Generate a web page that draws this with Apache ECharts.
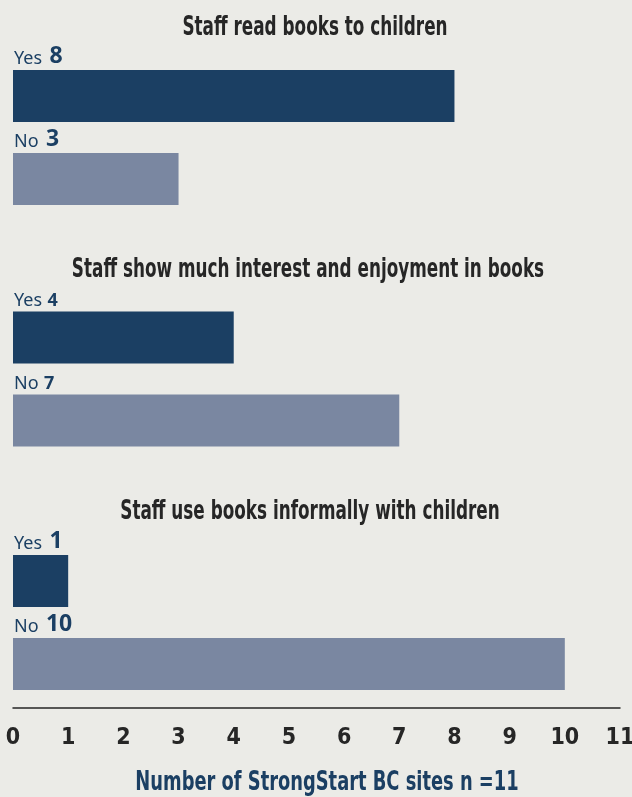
<!DOCTYPE html>
<html><head><meta charset="utf-8">
<script src="https://cdn.jsdelivr.net/npm/echarts@6/dist/echarts.min.js"></script>
<style>html,body{margin:0;padding:0;background:#ebebe7;}#c{width:632px;height:797px;}</style>
</head><body><div id="c"></div>
<script>
const questions = ['Staff read books to children','Staff show much interest and enjoyment in books','Staff use books informally with children'];
const categories = ['Yes','No'];
const yesCounts = [8, 4, 1];
const noCounts = [3, 7, 10];
const xTicks = [0,1,2,3,4,5,6,7,8,9,10,11];
const axisTitle = 'Number of StrongStart BC sites n =11';

const condensed = '"DejaVu Sans Condensed","Liberation Sans Narrow",sans-serif';
const sans = '"Noto Sans","Open Sans",sans-serif';
const dark = '#1b3f63', light = '#7a87a1';
const gridTops = [54.5, 296, 539.5];
const titleY = [28, 270, 512];
const titleX = [315, 308, 310];
const bigNum = [true, false, true];

const chart = echarts.init(document.getElementById('c'));
const grids = [], xAxes = [], yAxes = [], series = [], graphics = [];
questions.forEach((q, i) => {
  grids.push({left: 13, right: 12, top: gridTops[i], height: 166, outerBoundsMode: 'none'});
  xAxes.push({type: 'value', gridIndex: i, min: 0, max: 11, interval: 1, show: false});
  yAxes.push({type: 'category', gridIndex: i, data: categories, inverse: true, show: false});
  graphics.push({type: 'text', x: titleX[i], y: titleY[i], scaleX: 0.72, silent: true,
    style: {text: q, textAlign: 'center', textVerticalAlign: 'middle', fill: '#262626',
      font: 'bold 26px ' + condensed}});
  const vals = [yesCounts[i], noCounts[i]];
  series.push({
    type: 'bar', xAxisIndex: i, yAxisIndex: i, barWidth: 52,
    data: vals.map((v, j) => ({value: v, itemStyle: {color: j === 0 ? dark : light}})),
    label: {
      show: true, position: [1, -2], verticalAlign: 'bottom', align: 'left',
      formatter: p => '{a|' + categories[p.dataIndex] + '} {' + (bigNum[i] ? 'b' : 'c') + '|' + p.value + '}',
      rich: {
        a: {fontFamily: sans, fontSize: 18, color: dark, verticalAlign: 'bottom'},
        b: {fontFamily: sans, fontSize: 23, fontWeight: 'bold', color: dark, verticalAlign: 'bottom', padding: [0, 0, 0, 4]},
        c: {fontFamily: sans, fontSize: 18, fontWeight: 'bold', color: dark, verticalAlign: 'bottom', padding: [0, 0, 0, 2]}
      }
    },
    silent: true
  });
});
grids.push({left: 13, right: 12, top: 707, height: 1, outerBoundsMode: 'none'});
xAxes.push({type: 'value', gridIndex: 3, min: xTicks[0], max: xTicks[xTicks.length-1], interval: 1,
  axisLine: {show: true, lineStyle: {color: '#262626', width: 1.5}}, axisTick: {show: false}, splitLine: {show: false},
  axisLabel: {margin: 19, fontFamily: condensed, fontWeight: 'bold', fontSize: 23, color: '#262626'}});
yAxes.push({type: 'value', gridIndex: 3, show: false});
graphics.push({type: 'text', x: 327, y: 783, scaleX: 0.735, silent: true,
  style: {text: axisTitle, textAlign: 'center', textVerticalAlign: 'middle', fill: dark,
    font: 'bold 27px ' + condensed}});

chart.setOption({
  backgroundColor: '#ebebe7', animation: false,
  grid: grids, xAxis: xAxes, yAxis: yAxes, series: series, graphic: graphics
});
</script></body></html>
